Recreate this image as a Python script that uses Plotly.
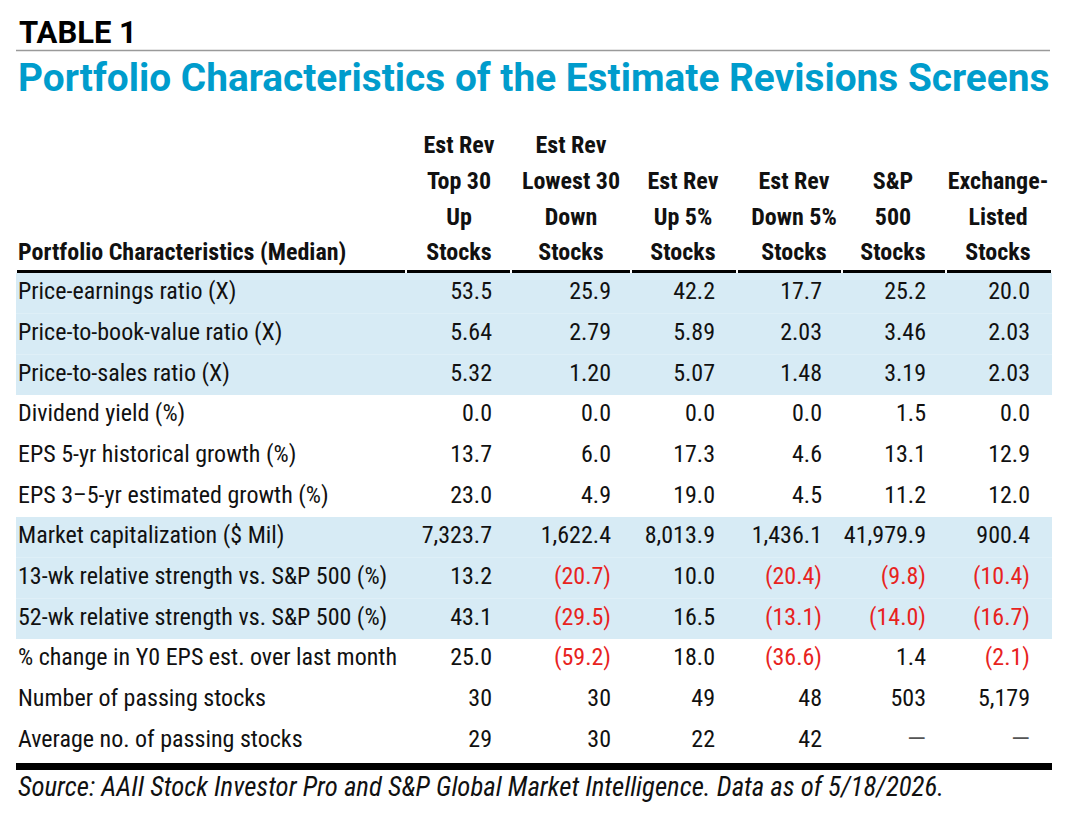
import plotly.graph_objects as go

# ---- table data ----
row_labels = [
    "Price-earnings ratio (X)",
    "Price-to-book-value ratio (X)",
    "Price-to-sales ratio (X)",
    "Dividend yield (%)",
    "EPS 5-yr historical growth (%)",
    "EPS 3\u20135-yr estimated growth (%)",
    "Market capitalization ($ Mil)",
    "13-wk relative strength vs. S&P 500 (%)",
    "52-wk relative strength vs. S&P 500 (%)",
    "% change in Y0 EPS est. over last month",
    "Number of passing stocks",
    "Average no. of passing stocks",
]
first_header = "Portfolio Characteristics (Median)"
col_headers = [
    ["Est Rev", "Top 30", "Up", "Stocks"],
    ["Est Rev", "Lowest 30", "Down", "Stocks"],
    ["", "Est Rev", "Up 5%", "Stocks"],
    ["", "Est Rev", "Down 5%", "Stocks"],
    ["", "S&P", "500", "Stocks"],
    ["", "Exchange-", "Listed", "Stocks"],
]
est_rev_top30 = ["53.5", "5.64", "5.32", "0.0", "13.7", "23.0", "7,323.7", "13.2", "43.1", "25.0", "30", "29"]
est_rev_low30 = ["25.9", "2.79", "1.20", "0.0", "6.0", "4.9", "1,622.4", "(20.7)", "(29.5)", "(59.2)", "30", "30"]
est_rev_up5 = ["42.2", "5.89", "5.07", "0.0", "17.3", "19.0", "8,013.9", "10.0", "16.5", "18.0", "49", "22"]
est_rev_down5 = ["17.7", "2.03", "1.48", "0.0", "4.6", "4.5", "1,436.1", "(20.4)", "(13.1)", "(36.6)", "48", "42"]
sp500 = ["25.2", "3.46", "3.19", "1.5", "13.1", "11.2", "41,979.9", "(9.8)", "(14.0)", "1.4", "503", "\u2014"]
exchange_listed = ["20.0", "2.03", "2.03", "0.0", "12.9", "12.0", "900.4", "(10.4)", "(16.7)", "(2.1)", "5,179", "\u2014"]
columns = [est_rev_top30, est_rev_low30, est_rev_up5, est_rev_down5, sp500, exchange_listed]
shaded_rows = [0, 1, 2, 6, 7, 8]

# ---- layout / style ----
W, H = 1068, 818
FONT = "Roboto Condensed, Liberation Sans Narrow, Roboto"
BLUE = "#009CCC"
SHADE = "#D7EBF5"
RED = "#E8231E"
TXT = "#111111"
DASH = "\u2014"

table_left, table_right = 16, 1052
col_edges = [16, 406, 511, 631, 737, 842, 946, 1052]
col_right = [492, 611, 715, 822, 926, 1030]
head_center = [459, 571, 683, 794, 893, 998]
head_y = [147, 182.5, 218.5, 254]
row_top, row_h = 273, 40.67
row_y = [row_top + (i + 0.5) * row_h for i in range(len(row_labels))]

fig = go.Figure()

# shaded row bands
fig.add_trace(
    go.Bar(
        orientation="h",
        y=[row_y[i] for i in shaded_rows],
        x=[table_right - table_left] * len(shaded_rows),
        base=table_left,
        width=row_h,
        marker={"color": SHADE, "line": {"width": 0}},
        hoverinfo="skip",
    )
)

# row labels
fig.add_trace(
    go.Scatter(
        x=[18] * len(row_labels),
        y=row_y,
        mode="text",
        text=row_labels,
        textposition="middle right",
        textfont={"family": FONT, "size": 24, "color": TXT},
        hoverinfo="skip",
    )
)

# values (negatives in red, missing shown as a dash)
for j, vals in enumerate(columns):
    colors = [RED if v.startswith("(") else ("#555555" if v == DASH else TXT) for v in vals]
    families = ["Roboto" if v == DASH else FONT for v in vals]
    fig.add_trace(
        go.Scatter(
            x=[col_right[j]] * len(vals),
            y=row_y,
            mode="text",
            text=vals,
            textposition="middle left",
            textfont={"family": families, "size": 24, "color": colors},
            hoverinfo="skip",
        )
    )

# header lines
fig.add_trace(
    go.Scatter(
        x=[18],
        y=[head_y[-1]],
        mode="text",
        text=[first_header],
        textposition="middle right",
        textfont={"family": FONT, "size": 24, "color": TXT, "weight": "bold"},
        hoverinfo="skip",
    )
)
for j, lines in enumerate(col_headers):
    fig.add_trace(
        go.Scatter(
            x=[head_center[j]] * len(lines),
            y=head_y,
            mode="text",
            text=lines,
            textposition="middle center",
            textfont={"family": FONT, "size": 24, "color": TXT, "weight": "bold"},
            hoverinfo="skip",
        )
    )

# header underline, broken at column edges
for a, b in zip(col_edges[:-1], col_edges[1:]):
    fig.add_shape(type="line", xref="x", yref="y", x0=a + 1, x1=b - 1, y0=271.5, y1=271.5,
                  line={"color": "black", "width": 3})

# rule under TABLE 1 and heavy rule at the bottom
fig.add_shape(type="line", xref="x", yref="y", x0=16, x1=1050, y0=50.5, y1=50.5,
              line={"color": "#9A9A9A", "width": 1.5})
fig.add_shape(type="line", xref="x", yref="y", x0=table_left, x1=table_right, y0=766.5, y1=766.5,
              line={"color": "black", "width": 7})

fig.add_annotation(x=17, y=32, xref="x", yref="y", text="<b>TABLE 1</b>", showarrow=False,
                   xanchor="left", yanchor="middle", font={"family": "Roboto", "size": 31, "color": "black"})
fig.add_annotation(x=16, y=77, xref="x", yref="y",
                   text="<b>Portfolio Characteristics of the Estimate Revisions Screens</b>",
                   showarrow=False, xanchor="left", yanchor="middle",
                   font={"family": "Roboto", "size": 38.8, "color": BLUE})
fig.add_annotation(x=16, y=787, xref="x", yref="y",
                   text="<i>Source: AAII Stock Investor Pro and S&P Global Market Intelligence. Data as of 5/18/2026.</i>",
                   showarrow=False, xanchor="left", yanchor="middle",
                   font={"family": FONT, "size": 26.8, "color": TXT})

fig.update_xaxes(range=[0, W], visible=False, fixedrange=True)
fig.update_yaxes(range=[H, 0], visible=False, fixedrange=True)
fig.update_layout(
    width=W,
    height=H,
    margin={"l": 0, "r": 0, "t": 0, "b": 0},
    paper_bgcolor="white",
    plot_bgcolor="white",
    showlegend=False,
    hovermode=False,
)

fig.write_html("out.html", config={"displayModeBar": False},
               post_script="document.body.style.margin='0px';")
